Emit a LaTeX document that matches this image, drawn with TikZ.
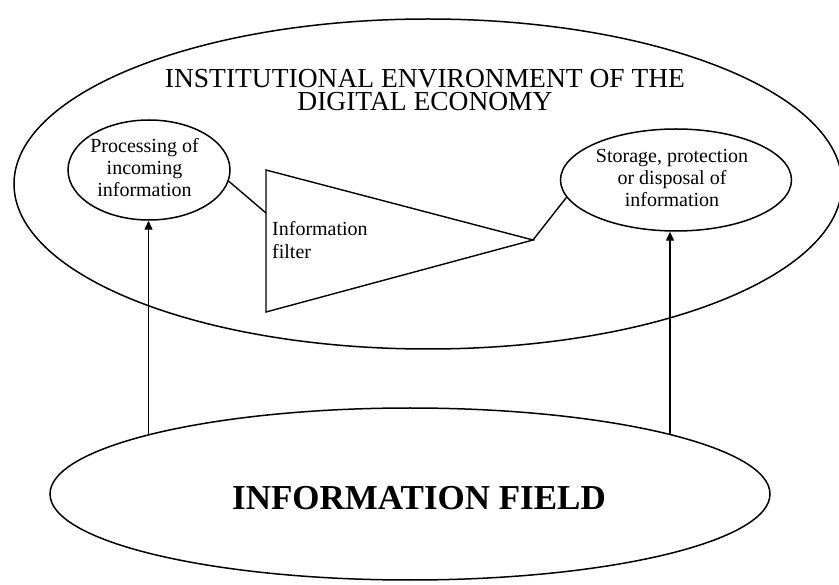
\documentclass[tikz,border=0pt]{standalone}
\usepackage{fontspec}
\setmainfont{Liberation Serif}
\usetikzlibrary{shapes.geometric,arrows.meta}
\begin{document}
\begin{tikzpicture}[x=1pt,y=-1pt,
  outline/.style={draw=black,line width=1.5pt,ellipse,inner sep=0pt},
  link/.style={draw=black,line width=1.4pt},
  uparrow/.style={link,-{Triangle[length=9pt,width=8pt]}},
  smalltext/.style={font=\fontsize{20}{22}\selectfont,inner sep=0pt,align=center}]
\useasboundingbox (0,0) rectangle (839,585);
\fill[white] (0,0) rectangle (839,585);

% institutional environment
\node[outline,minimum width=828pt,minimum height=330pt] (env) at (428,184) {};
\node[font=\fontsize{27.5}{23}\selectfont,align=center,inner sep=0pt,anchor=north] (title)
  at (425,69) {INSTITUTIONAL ENVIRONMENT OF THE\\DIGITAL ECONOMY};

% processing of incoming information
\node[outline,minimum width=162pt,minimum height=100pt] (proc) at (149,170) {};
\node[smalltext,anchor=north] (proctext) at (144.5,138.3) {Processing of\\incoming\\information};

% storage, protection or disposal
\node[outline,minimum width=231pt,minimum height=102pt] (store) at (676,180) {};
\node[smalltext,anchor=north] (storetext) at (672,149.5) {Storage, protection\\or disposal of\\information};

% information filter
\coordinate (ta) at (266,170);
\coordinate (tb) at (266,312);
\coordinate (tc) at (533,240);
\coordinate (tin) at (266,213);
\draw[link,line join=miter] (ta) -- (tc) -- (tb) -- cycle;
\node[font=\fontsize{20}{23}\selectfont,align=left,inner sep=0pt,anchor=north west] (filtertext)
  at (272,221.3) {Information\\filter};
\draw[link] (proc.-8) -- (tin);
\draw[link] (tc) -- (store.-171);

% information field
\node[outline,minimum width=720pt,minimum height=172pt] (field) at (410,494) {};
\node[font=\bfseries\fontsize{35}{40}\selectfont,inner sep=0pt,anchor=base] (fieldtext)
  at (419,510) {INFORMATION FIELD};

% upward flows
\coordinate (fl) at (148.5,434);
\coordinate (fr) at (670,433.8);
\draw[uparrow] (fl) -- (fl |- proc.south);
\draw[uparrow] (fr) -- (fr |- store.south);
\end{tikzpicture}
\end{document}
